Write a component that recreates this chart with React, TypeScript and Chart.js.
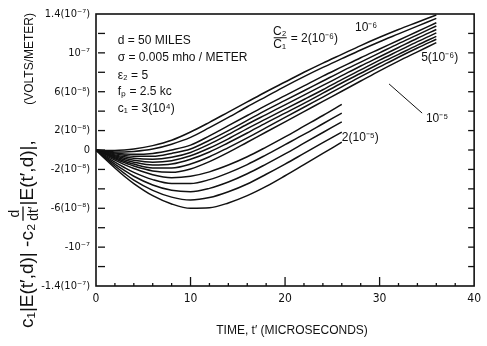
import React, { useEffect, useRef } from "react";
import { Chart, registerables } from "chart.js";

Chart.register(...registerables);

// time axis (microseconds)
const X_LONG = [0, 1, 2, 3, 4, 6, 8, 10, 12, 14, 16, 18, 20, 22, 24, 26, 28, 30, 32, 34, 36];
const X_SHORT = [0, 1, 2, 3, 4, 6, 8, 10, 12, 14, 16, 18, 20, 22, 24, 26];

// curve values in units of 1e-8 V/m, top curve first
const C1 = [0, -0.05, -0.05, 0, 0.1, 0.45, 1.0, 1.85, 2.85, 3.9, 4.95, 6.0, 7.0, 8.0, 8.95, 9.85, 10.75, 11.6, 12.4, 13.15, 13.9];
const C2 = [0, -0.1, -0.2, -0.2, -0.15, 0.1, 0.6, 1.3, 2.3, 3.35, 4.45, 5.5, 6.55, 7.55, 8.5, 9.4, 10.3, 11.15, 11.95, 12.75, 13.55];
const C3 = [0, -0.15, -0.3, -0.4, -0.45, -0.35, 0.0, 0.5, 1.45, 2.5, 3.55, 4.6, 5.6, 6.6, 7.6, 8.55, 9.5, 10.4, 11.3, 12.2, 13.1];
const C4 = [0, -0.2, -0.4, -0.55, -0.65, -0.65, -0.35, 0.1, 1.0, 2.0, 3.05, 4.1, 5.1, 6.1, 7.1, 8.1, 9.05, 10.0, 10.95, 11.85, 12.77];
const C5 = [0, -0.25, -0.5, -0.7, -0.85, -0.95, -0.75, -0.25, 0.6, 1.6, 2.65, 3.65, 4.65, 5.65, 6.65, 7.65, 8.65, 9.6, 10.55, 11.5, 12.4];
const C6 = [0, -0.3, -0.6, -0.85, -1.05, -1.25, -1.1, -0.6, 0.2, 1.15, 2.2, 3.2, 4.2, 5.2, 6.2, 7.25, 8.25, 9.25, 10.2, 11.15, 12.05];
const C7 = [0, -0.35, -0.7, -1.0, -1.25, -1.55, -1.45, -0.95, -0.2, 0.75, 1.75, 2.8, 3.8, 4.8, 5.85, 6.9, 7.9, 8.9, 9.85, 10.8, 11.7];
const C8 = [0, -0.4, -0.8, -1.15, -1.45, -1.85, -1.85, -1.45, -0.7, 0.25, 1.25, 2.3, 3.35, 4.4, 5.45, 6.5, 7.55, 8.55, 9.55, 10.5, 11.4];
const C9 = [0, -0.45, -0.9, -1.3, -1.65, -2.15, -2.3, -1.95, -1.2, -0.25, 0.8, 1.85, 2.9, 3.95, 5.0, 6.05, 7.1, 8.15, 9.15, 10.1, 11.05];
const S1 = [0, -0.55, -1.05, -1.5, -1.9, -2.55, -2.85, -2.7, -2.25, -1.55, -0.7, 0.3, 1.35, 2.45, 3.55, 4.7];
const S2 = [0, -0.65, -1.25, -1.8, -2.3, -3.05, -3.45, -3.45, -3.05, -2.35, -1.5, -0.5, 0.55, 1.6, 2.7, 3.8];
const S3 = [0, -0.75, -1.45, -2.1, -2.7, -3.6, -4.15, -4.3, -3.95, -3.3, -2.45, -1.45, -0.4, 0.7, 1.8, 2.9];
const S4 = [0, -0.85, -1.65, -2.4, -3.1, -4.15, -4.85, -5.15, -4.9, -4.3, -3.5, -2.5, -1.45, -0.35, 0.75, 1.85];
const S5 = [0, -0.95, -1.85, -2.7, -3.45, -4.7, -5.55, -6.0, -5.95, -5.45, -4.7, -3.75, -2.65, -1.5, -0.35, 0.8];

const LONG_SERIES = [C1, C2, C3, C4, C5, C6, C7, C8, C9];
const SHORT_SERIES = [S1, S2, S3, S4, S5];

const Y_TICK_VALUES = [14, 10, 6, 2, 0, -2, -6, -10, -14];
const Y_TICK_TEXT = ["1.4(10⁻⁷)", "10⁻⁷", "6(10⁻⁸)", "2(10⁻⁸)", "0", "-2(10⁻⁸)", "-6(10⁻⁸)", "-10⁻⁷", "-1.4(10⁻⁷)"];
const Y_MARKS = [-12, -10, -8, -6, -4, -2, 0, 2, 4, 6, 8, 10, 12];
const X_MINOR = [2, 4, 6, 8, 12, 14, 16, 18, 22, 24, 26, 28, 32, 34, 36, 38];
const X_MAJOR = [10, 20, 30];

const PARAM_LINES = ["d = 50 MILES", "σ = 0.005 mho / METER", "ε₂ = 5", "fₚ = 2.5 kc", "c₁ = 3(10⁴)"];
const PARAM_Y = [10.9, 9.15, 7.3, 5.65, 3.9];
const PARAM_X = 2.3;

const LABELS = [
  { text: "10⁻⁶", x: 27.4, y: 12.3 },
  { text: "5(10⁻⁶)", x: 34.4, y: 9.2 },
  { text: "10⁻⁵", x: 34.9, y: 2.9 },
  { text: "2(10⁻⁵)", x: 26.0, y: 0.95 },
];

const NARROW = "'Liberation Sans Narrow', 'DejaVu Sans Condensed', 'Arial Narrow', sans-serif";
const SANS = "'Liberation Sans', Arial, sans-serif";
const INK = "#111";

const overlay = {
  id: "overlay",
  afterDraw(chart: any) {
    const { ctx, chartArea: a, scales } = chart;
    const px = (v: number) => scales.x.getPixelForValue(v);
    const py = (v: number) => scales.y.getPixelForValue(v);
    const line = (x1: number, y1: number, x2: number, y2: number) => {
      ctx.beginPath();
      ctx.moveTo(x1, y1);
      ctx.lineTo(x2, y2);
      ctx.stroke();
    };
    ctx.save();
    ctx.strokeStyle = INK;
    ctx.fillStyle = INK;
    ctx.lineWidth = 1.6;
    ctx.strokeRect(a.left, a.top, a.right - a.left, a.bottom - a.top);
    ctx.lineWidth = 1.3;
    X_MINOR.forEach((v) => line(px(v), a.bottom, px(v), a.bottom - 3));
    X_MAJOR.forEach((v) => line(px(v), a.bottom, px(v), a.bottom - 9));
    Y_MARKS.forEach((v) => {
      line(a.left + 2, py(v), a.left + 9, py(v));
      line(a.right, py(v), a.right - 6, py(v));
    });

    // parameter block
    ctx.font = `12px ${SANS}`;
    ctx.textAlign = "left";
    ctx.textBaseline = "alphabetic";
    PARAM_LINES.forEach((t, i) => ctx.fillText(t, px(PARAM_X), py(PARAM_Y[i])));

    // C2/C1 = 2(10^-6)
    const fx = px(18.8);
    const fy = py(11.45);
    ctx.font = `12px ${SANS}`;
    ctx.textAlign = "center";
    ctx.fillText("C₂", fx + 6, fy - 4);
    ctx.fillText("C₁", fx + 6, fy + 9);
    ctx.lineWidth = 1;
    line(fx, fy - 1, fx + 13, fy - 1);
    ctx.textAlign = "left";
    ctx.fillText("= 2(10⁻⁶)", fx + 17, fy + 3);

    LABELS.forEach((l) => ctx.fillText(l.text, px(l.x), py(l.y)));
    // leader for 10^-5
    line(px(31.0), py(6.8), px(34.5), py(3.8));

    // y axis title (rotated)
    ctx.save();
    ctx.translate(33, 328);
    ctx.rotate(-Math.PI / 2);
    ctx.textAlign = "left";
    ctx.font = `19px ${SANS}`;
    const p1 = "c₁|E(t′,d)| -c₂";
    ctx.fillText(p1, 0, 0);
    let cx = ctx.measureText(p1).width + 3;
    ctx.font = `14px ${SANS}`;
    const den = "dt′";
    const wd = ctx.measureText(den).width;
    const wn = ctx.measureText("d").width;
    ctx.fillText("d", cx + (wd - wn) / 2, -14);
    ctx.fillText(den, cx, 5);
    ctx.lineWidth = 1.3;
    line(cx, -10, cx + wd, -10);
    cx += wd + 1;
    ctx.font = `19px ${SANS}`;
    ctx.fillText("|E(t′,d)|,", cx, 0);
    ctx.font = `12px ${SANS}`;
    const vm = "(VOLTS/METER)";
    ctx.fillText(vm, 315 - ctx.measureText(vm).width, 0);
    ctx.restore();

    // x axis title
    ctx.font = `12px ${SANS}`;
    ctx.textAlign = "center";
    ctx.fillText("TIME, t′ (MICROSECONDS)", (a.left + a.right) / 2 + 7, 334);
    ctx.restore();
  },
};

export default function App() {
  const ref = useRef<HTMLCanvasElement>(null);
  useEffect(() => {
    document.body.style.margin = "0";
    if (!ref.current) return;
    const mk = (xs: number[], ys: number[]) => xs.map((x, i) => ({ x, y: ys[i] }));
    const datasets = [
      ...LONG_SERIES.map((s) => mk(X_LONG, s)),
      ...SHORT_SERIES.map((s) => mk(X_SHORT, s)),
    ].map((data) => ({
      data,
      borderColor: INK,
      borderWidth: 1.5,
      pointRadius: 0,
      fill: false,
      cubicInterpolationMode: "monotone" as const,
    }));
    const chart = new Chart(ref.current, {
      type: "line",
      data: { datasets },
      options: {
        animation: false,
        responsive: false,
        layout: { padding: { left: 0, right: 5, top: 14, bottom: 0 } },
        plugins: { legend: { display: false }, tooltip: { enabled: false } },
        scales: {
          x: {
            type: "linear",
            min: 0,
            max: 40,
            grid: { display: false, drawTicks: false },
            border: { display: false },
            ticks: {
              stepSize: 10,
              padding: 6,
              color: INK,
              font: { family: NARROW, size: 12 },
              maxRotation: 0,
            },
            afterFit: (s: any) => {
              s.height = 60;
            },
          },
          y: {
            type: "linear",
            min: -14,
            max: 14,
            grid: { display: false, drawTicks: false },
            border: { display: false },
            ticks: {
              stepSize: 2,
              padding: 6,
              color: INK,
              font: { family: NARROW, size: 11 },
              autoSkip: false,
              callback: (v: any) => {
                const i = Y_TICK_VALUES.indexOf(Number(v));
                return i >= 0 ? Y_TICK_TEXT[i] : "";
              },
            },
            afterFit: (s: any) => {
              s.width = 96;
            },
          },
        },
      },
      plugins: [overlay],
    });
    return () => chart.destroy();
  }, []);
  return (
    <div style={{ width: 487, height: 346, background: "#fff" }}>
      <canvas ref={ref} width={487} height={346} />
    </div>
  );
}
